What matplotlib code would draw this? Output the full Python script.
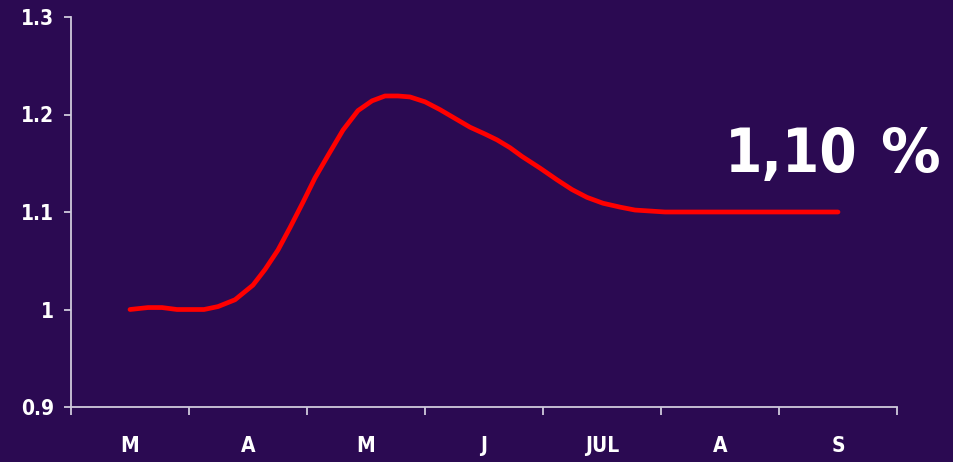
import matplotlib
matplotlib.use("Agg")
import matplotlib.pyplot as plt

# chart data (x in month slots, 0.5 = centre of first month)
months = ["M", "A", "M", "J", "JUL", "A", "S"]
pos = [0.500, 0.653, 0.771, 0.898, 1.008, 1.127, 1.246, 1.390, 1.542, 1.644,
       1.754, 1.856, 1.966, 2.068, 2.178, 2.305, 2.432, 2.551, 2.661, 2.771,
       2.873, 3.000, 3.127, 3.254, 3.381, 3.508, 3.610, 3.720, 3.822, 3.975,
       4.119, 4.246, 4.373, 4.508, 4.653, 4.780, 4.907, 5.034, 5.500, 6.000,
       6.500]
vals = [1.000, 1.002, 1.002, 1.000, 1.000, 1.000, 1.003, 1.010, 1.025, 1.041,
        1.061, 1.084, 1.110, 1.135, 1.158, 1.184, 1.204, 1.214, 1.219, 1.219,
        1.218, 1.213, 1.205, 1.196, 1.187, 1.180, 1.174, 1.166, 1.157, 1.145,
        1.133, 1.123, 1.115, 1.109, 1.105, 1.102, 1.101, 1.100, 1.100, 1.100,
        1.100]
yticks = [0.9, 1.0, 1.1, 1.2, 1.3]
ylabels = ["0.9", "1", "1.1", "1.2", "1.3"]
big_label = "1,10 %"

bg = "#2b0a52"
axcol = "#cfcadc"
W, H = 954, 462

fig = plt.figure(figsize=(W / 100, H / 100), dpi=100, facecolor=bg)
ax = fig.add_axes([71 / W, (H - 407) / H, 826 / W, 390 / H], facecolor=bg)

ax.plot(pos, vals, color="#ff0000", lw=3.4, solid_joinstyle="round",
        solid_capstyle="round", zorder=3)

ax.set_xlim(0, len(months))
ax.set_ylim(0.9, 1.3)
ax.set_yticks(yticks)
ax.set_yticklabels(ylabels)
ax.set_xticks(range(len(months) + 1))
ax.set_xticklabels([])
ax.set_xticks([i + 0.5 for i in range(len(months))], minor=True)
ax.set_xticklabels(months, minor=True)

for s in ["top", "right"]:
    ax.spines[s].set_visible(False)
for s in ["left", "bottom"]:
    ax.spines[s].set_color(axcol)
    ax.spines[s].set_linewidth(1.3)

lab = dict(color="white", fontweight="heavy", fontsize=15, fontstretch="condensed")
ax.tick_params(axis="y", direction="out", length=5, width=1.3, color=axcol, pad=7)
ax.tick_params(axis="x", which="major", direction="out", length=6, width=1.3, color=axcol)
ax.tick_params(axis="x", which="minor", length=0, pad=21)
for t in ax.get_yticklabels() + ax.get_xticklabels(minor=True):
    t.set(**lab)

fig.text(725 / W, 1 - 172 / H, "1,10", color="white", fontsize=43,
         fontweight="bold", fontstretch="condensed", ha="left", va="baseline")
fig.text(880 / W, 1 - 172 / H, big_label.split(" ")[1], color="white", fontsize=43,
         fontweight="bold", ha="left", va="baseline")

fig.savefig("out.png", dpi=100, facecolor=bg)
